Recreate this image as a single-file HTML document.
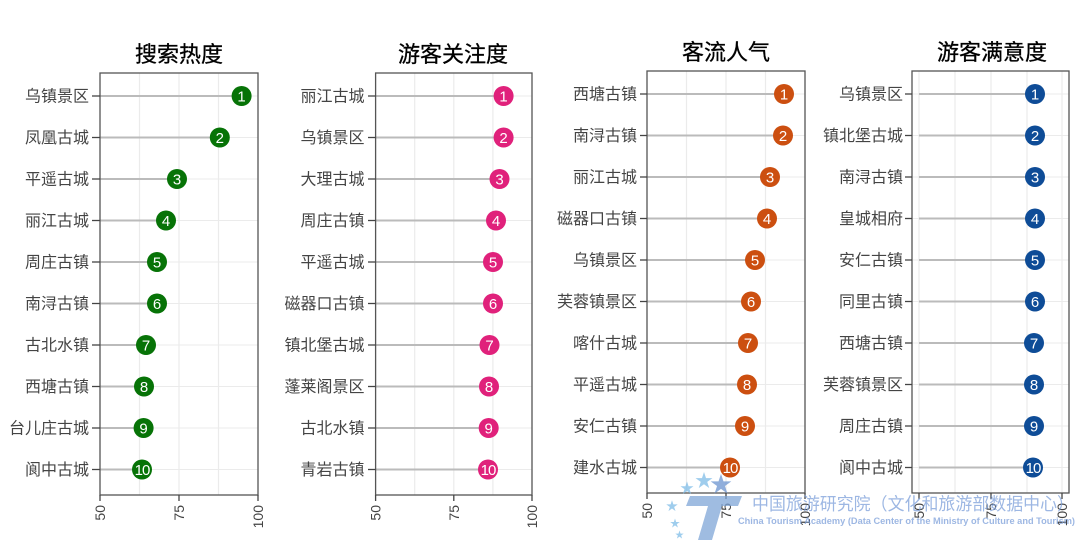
<!DOCTYPE html>
<html><head><meta charset="utf-8"><style>
html,body{margin:0;padding:0;background:#fff;}
svg{display:block;font-family:"Liberation Sans","Noto Sans CJK SC",sans-serif;}
.c text{font-size:15px;}
</style></head><body>
<svg width="1080" height="540" viewBox="0 0 1080 540" xmlns="http://www.w3.org/2000/svg">
<g id="p1">
<g stroke="#ebebeb" stroke-width="1.2"><line x1="139.5" y1="73" x2="139.5" y2="495"/><line x1="179" y1="73" x2="179" y2="495"/><line x1="218.5" y1="73" x2="218.5" y2="495"/></g>
<g stroke="#ebebeb"><line x1="100" y1="96" x2="258" y2="96"/><line x1="100" y1="137.5" x2="258" y2="137.5"/><line x1="100" y1="179" x2="258" y2="179"/><line x1="100" y1="220.5" x2="258" y2="220.5"/><line x1="100" y1="262" x2="258" y2="262"/><line x1="100" y1="303.5" x2="258" y2="303.5"/><line x1="100" y1="345" x2="258" y2="345"/><line x1="100" y1="386.5" x2="258" y2="386.5"/><line x1="100" y1="428" x2="258" y2="428"/><line x1="100" y1="469.5" x2="258" y2="469.5"/></g>
<g stroke="#bbb" stroke-width="2"><line x1="100" y1="96" x2="241.6" y2="96"/><line x1="100" y1="137.5" x2="219.8" y2="137.5"/><line x1="100" y1="179" x2="177" y2="179"/><line x1="100" y1="220.5" x2="166" y2="220.5"/><line x1="100" y1="262" x2="157" y2="262"/><line x1="100" y1="303.5" x2="157" y2="303.5"/><line x1="100" y1="345" x2="146" y2="345"/><line x1="100" y1="386.5" x2="144" y2="386.5"/><line x1="100" y1="428" x2="143.6" y2="428"/><line x1="100" y1="469.5" x2="142" y2="469.5"/></g>
<rect x="100" y="73" width="158" height="422" fill="none" stroke="#555" stroke-width="1.3"/>
<g fill="#077307"><circle cx="241.6" cy="96" r="10"/><circle cx="219.8" cy="137.5" r="10"/><circle cx="177" cy="179" r="10"/><circle cx="166" cy="220.5" r="10"/><circle cx="157" cy="262" r="10"/><circle cx="157" cy="303.5" r="10"/><circle cx="146" cy="345" r="10"/><circle cx="144" cy="386.5" r="10"/><circle cx="143.6" cy="428" r="10"/><circle cx="142" cy="469.5" r="10"/></g>
<g class="c" fill="#fff" text-anchor="middle"><text x="241.6" y="101.5">1</text><text x="219.8" y="143">2</text><text x="177" y="184.5">3</text><text x="166" y="226">4</text><text x="157" y="267.5">5</text><text x="157" y="309">6</text><text x="146" y="350.5">7</text><text x="144" y="392">8</text><text x="143.6" y="433.5">9</text><text x="142" y="475" letter-spacing="-1">10</text></g>
<g stroke="#444" stroke-width="1.3"><line x1="92" y1="96" x2="100" y2="96"/><line x1="92" y1="137.5" x2="100" y2="137.5"/><line x1="92" y1="179" x2="100" y2="179"/><line x1="92" y1="220.5" x2="100" y2="220.5"/><line x1="92" y1="262" x2="100" y2="262"/><line x1="92" y1="303.5" x2="100" y2="303.5"/><line x1="92" y1="345" x2="100" y2="345"/><line x1="92" y1="386.5" x2="100" y2="386.5"/><line x1="92" y1="428" x2="100" y2="428"/><line x1="92" y1="469.5" x2="100" y2="469.5"/><line x1="100" y1="495" x2="100" y2="501"/><line x1="179" y1="495" x2="179" y2="501"/><line x1="258" y1="495" x2="258" y2="501"/></g>
<g fill="#444" font-size="16" text-anchor="end"><text x="89" y="101.5">乌镇景区</text><text x="89" y="143">凤凰古城</text><text x="89" y="184.5">平遥古城</text><text x="89" y="226">丽江古城</text><text x="89" y="267.5">周庄古镇</text><text x="89" y="309">南浔古镇</text><text x="89" y="350.5">古北水镇</text><text x="89" y="392">西塘古镇</text><text x="89" y="433.5">台儿庄古城</text><text x="89" y="475">阆中古城</text></g>
<g fill="#444" font-size="14" text-anchor="end"><text transform="translate(105,505) rotate(-90)">50</text><text transform="translate(184,505) rotate(-90)">75</text><text transform="translate(263,505) rotate(-90)">100</text></g>
<text x="179" y="62" font-size="22" text-anchor="middle" fill="#000" stroke="#000" stroke-width="0.3">搜索热度</text>
</g>

<g id="p2">
<g stroke="#ebebeb" stroke-width="1.2"><line x1="414.7" y1="73" x2="414.7" y2="495"/><line x1="453.8" y1="73" x2="453.8" y2="495"/><line x1="492.9" y1="73" x2="492.9" y2="495"/></g>
<g stroke="#ebebeb"><line x1="375.6" y1="96" x2="532" y2="96"/><line x1="375.6" y1="137.5" x2="532" y2="137.5"/><line x1="375.6" y1="179" x2="532" y2="179"/><line x1="375.6" y1="220.5" x2="532" y2="220.5"/><line x1="375.6" y1="262" x2="532" y2="262"/><line x1="375.6" y1="303.5" x2="532" y2="303.5"/><line x1="375.6" y1="345" x2="532" y2="345"/><line x1="375.6" y1="386.5" x2="532" y2="386.5"/><line x1="375.6" y1="428" x2="532" y2="428"/><line x1="375.6" y1="469.5" x2="532" y2="469.5"/></g>
<g stroke="#bbb" stroke-width="2"><line x1="375.6" y1="96" x2="503.6" y2="96"/><line x1="375.6" y1="137.5" x2="503.6" y2="137.5"/><line x1="375.6" y1="179" x2="499.5" y2="179"/><line x1="375.6" y1="220.5" x2="496" y2="220.5"/><line x1="375.6" y1="262" x2="493" y2="262"/><line x1="375.6" y1="303.5" x2="493" y2="303.5"/><line x1="375.6" y1="345" x2="489.5" y2="345"/><line x1="375.6" y1="386.5" x2="489" y2="386.5"/><line x1="375.6" y1="428" x2="488.7" y2="428"/><line x1="375.6" y1="469.5" x2="488" y2="469.5"/></g>
<rect x="375.6" y="73" width="156.4" height="422" fill="none" stroke="#555" stroke-width="1.3"/>
<g fill="#e0217b"><circle cx="503.6" cy="96" r="10"/><circle cx="503.6" cy="137.5" r="10"/><circle cx="499.5" cy="179" r="10"/><circle cx="496" cy="220.5" r="10"/><circle cx="493" cy="262" r="10"/><circle cx="493" cy="303.5" r="10"/><circle cx="489.5" cy="345" r="10"/><circle cx="489" cy="386.5" r="10"/><circle cx="488.7" cy="428" r="10"/><circle cx="488" cy="469.5" r="10"/></g>
<g class="c" fill="#fff" text-anchor="middle"><text x="503.6" y="101.5">1</text><text x="503.6" y="143">2</text><text x="499.5" y="184.5">3</text><text x="496" y="226">4</text><text x="493" y="267.5">5</text><text x="493" y="309">6</text><text x="489.5" y="350.5">7</text><text x="489" y="392">8</text><text x="488.7" y="433.5">9</text><text x="488" y="475" letter-spacing="-1">10</text></g>
<g stroke="#444" stroke-width="1.3"><line x1="368" y1="96" x2="375.6" y2="96"/><line x1="368" y1="137.5" x2="375.6" y2="137.5"/><line x1="368" y1="179" x2="375.6" y2="179"/><line x1="368" y1="220.5" x2="375.6" y2="220.5"/><line x1="368" y1="262" x2="375.6" y2="262"/><line x1="368" y1="303.5" x2="375.6" y2="303.5"/><line x1="368" y1="345" x2="375.6" y2="345"/><line x1="368" y1="386.5" x2="375.6" y2="386.5"/><line x1="368" y1="428" x2="375.6" y2="428"/><line x1="368" y1="469.5" x2="375.6" y2="469.5"/><line x1="375.6" y1="495" x2="375.6" y2="501"/><line x1="453.8" y1="495" x2="453.8" y2="501"/><line x1="532" y1="495" x2="532" y2="501"/></g>
<g fill="#444" font-size="16" text-anchor="end"><text x="364.5" y="101.5">丽江古城</text><text x="364.5" y="143">乌镇景区</text><text x="364.5" y="184.5">大理古城</text><text x="364.5" y="226">周庄古镇</text><text x="364.5" y="267.5">平遥古城</text><text x="364.5" y="309">磁器口古镇</text><text x="364.5" y="350.5">镇北堡古城</text><text x="364.5" y="392">蓬莱阁景区</text><text x="364.5" y="433.5">古北水镇</text><text x="364.5" y="475">青岩古镇</text></g>
<g fill="#444" font-size="14" text-anchor="end"><text transform="translate(380.6,505) rotate(-90)">50</text><text transform="translate(458.8,505) rotate(-90)">75</text><text transform="translate(537,505) rotate(-90)">100</text></g>
<text x="453" y="62" font-size="22" text-anchor="middle" fill="#000" stroke="#000" stroke-width="0.3">游客关注度</text>
</g>

<g id="p3">
<g stroke="#ebebeb" stroke-width="1.2"><line x1="686.5" y1="71" x2="686.5" y2="493"/><line x1="726" y1="71" x2="726" y2="493"/><line x1="765.5" y1="71" x2="765.5" y2="493"/></g>
<g stroke="#ebebeb"><line x1="647" y1="94" x2="805" y2="94"/><line x1="647" y1="135.5" x2="805" y2="135.5"/><line x1="647" y1="177" x2="805" y2="177"/><line x1="647" y1="218.5" x2="805" y2="218.5"/><line x1="647" y1="260" x2="805" y2="260"/><line x1="647" y1="301.5" x2="805" y2="301.5"/><line x1="647" y1="343" x2="805" y2="343"/><line x1="647" y1="384.5" x2="805" y2="384.5"/><line x1="647" y1="426" x2="805" y2="426"/><line x1="647" y1="467.5" x2="805" y2="467.5"/></g>
<g stroke="#bbb" stroke-width="2"><line x1="647" y1="94" x2="784" y2="94"/><line x1="647" y1="135.5" x2="783" y2="135.5"/><line x1="647" y1="177" x2="770" y2="177"/><line x1="647" y1="218.5" x2="767" y2="218.5"/><line x1="647" y1="260" x2="755" y2="260"/><line x1="647" y1="301.5" x2="751" y2="301.5"/><line x1="647" y1="343" x2="748" y2="343"/><line x1="647" y1="384.5" x2="747" y2="384.5"/><line x1="647" y1="426" x2="745" y2="426"/><line x1="647" y1="467.5" x2="730" y2="467.5"/></g>
<rect x="647" y="71" width="158" height="422" fill="none" stroke="#555" stroke-width="1.3"/>
<g fill="#cc4f10"><circle cx="784" cy="94" r="10"/><circle cx="783" cy="135.5" r="10"/><circle cx="770" cy="177" r="10"/><circle cx="767" cy="218.5" r="10"/><circle cx="755" cy="260" r="10"/><circle cx="751" cy="301.5" r="10"/><circle cx="748" cy="343" r="10"/><circle cx="747" cy="384.5" r="10"/><circle cx="745" cy="426" r="10"/><circle cx="730" cy="467.5" r="10"/></g>
<g class="c" fill="#fff" text-anchor="middle"><text x="784" y="99.5">1</text><text x="783" y="141">2</text><text x="770" y="182.5">3</text><text x="767" y="224">4</text><text x="755" y="265.5">5</text><text x="751" y="307">6</text><text x="748" y="348.5">7</text><text x="747" y="390">8</text><text x="745" y="431.5">9</text><text x="730" y="473" letter-spacing="-1">10</text></g>
<g stroke="#444" stroke-width="1.3"><line x1="640" y1="94" x2="647" y2="94"/><line x1="640" y1="135.5" x2="647" y2="135.5"/><line x1="640" y1="177" x2="647" y2="177"/><line x1="640" y1="218.5" x2="647" y2="218.5"/><line x1="640" y1="260" x2="647" y2="260"/><line x1="640" y1="301.5" x2="647" y2="301.5"/><line x1="640" y1="343" x2="647" y2="343"/><line x1="640" y1="384.5" x2="647" y2="384.5"/><line x1="640" y1="426" x2="647" y2="426"/><line x1="640" y1="467.5" x2="647" y2="467.5"/><line x1="647" y1="493" x2="647" y2="499"/><line x1="726" y1="493" x2="726" y2="499"/><line x1="805" y1="493" x2="805" y2="499"/></g>
<g fill="#444" font-size="16" text-anchor="end"><text x="637" y="99.5">西塘古镇</text><text x="637" y="141">南浔古镇</text><text x="637" y="182.5">丽江古城</text><text x="637" y="224">磁器口古镇</text><text x="637" y="265.5">乌镇景区</text><text x="637" y="307">芙蓉镇景区</text><text x="637" y="348.5">喀什古城</text><text x="637" y="390">平遥古城</text><text x="637" y="431.5">安仁古镇</text><text x="637" y="473">建水古城</text></g>
<g fill="#444" font-size="14" text-anchor="end"><text transform="translate(652,503) rotate(-90)">50</text><text transform="translate(731,503) rotate(-90)">75</text><text transform="translate(810,503) rotate(-90)">100</text></g>
<text x="726" y="60" font-size="22" text-anchor="middle" fill="#000" stroke="#000" stroke-width="0.3">客流人气</text>
</g>

<g id="p4">
<g stroke="#ebebeb" stroke-width="1.2"><line x1="919" y1="71" x2="919" y2="493"/><line x1="955" y1="71" x2="955" y2="493"/><line x1="991" y1="71" x2="991" y2="493"/><line x1="1027" y1="71" x2="1027" y2="493"/><line x1="1062" y1="71" x2="1062" y2="493"/></g>
<g stroke="#ebebeb"><line x1="912" y1="94" x2="1069" y2="94"/><line x1="912" y1="135.5" x2="1069" y2="135.5"/><line x1="912" y1="177" x2="1069" y2="177"/><line x1="912" y1="218.5" x2="1069" y2="218.5"/><line x1="912" y1="260" x2="1069" y2="260"/><line x1="912" y1="301.5" x2="1069" y2="301.5"/><line x1="912" y1="343" x2="1069" y2="343"/><line x1="912" y1="384.5" x2="1069" y2="384.5"/><line x1="912" y1="426" x2="1069" y2="426"/><line x1="912" y1="467.5" x2="1069" y2="467.5"/></g>
<g stroke="#bbb" stroke-width="2"><line x1="919" y1="94" x2="1035" y2="94"/><line x1="919" y1="135.5" x2="1035" y2="135.5"/><line x1="919" y1="177" x2="1035" y2="177"/><line x1="919" y1="218.5" x2="1035" y2="218.5"/><line x1="919" y1="260" x2="1035" y2="260"/><line x1="919" y1="301.5" x2="1035" y2="301.5"/><line x1="919" y1="343" x2="1034" y2="343"/><line x1="919" y1="384.5" x2="1034" y2="384.5"/><line x1="919" y1="426" x2="1034" y2="426"/><line x1="919" y1="467.5" x2="1033" y2="467.5"/></g>
<rect x="912" y="71" width="157" height="422" fill="none" stroke="#555" stroke-width="1.3"/>
<g fill="#0e4c97"><circle cx="1035" cy="94" r="10"/><circle cx="1035" cy="135.5" r="10"/><circle cx="1035" cy="177" r="10"/><circle cx="1035" cy="218.5" r="10"/><circle cx="1035" cy="260" r="10"/><circle cx="1035" cy="301.5" r="10"/><circle cx="1034" cy="343" r="10"/><circle cx="1034" cy="384.5" r="10"/><circle cx="1034" cy="426" r="10"/><circle cx="1033" cy="467.5" r="10"/></g>
<g class="c" fill="#fff" text-anchor="middle"><text x="1035" y="99.5">1</text><text x="1035" y="141">2</text><text x="1035" y="182.5">3</text><text x="1035" y="224">4</text><text x="1035" y="265.5">5</text><text x="1035" y="307">6</text><text x="1034" y="348.5">7</text><text x="1034" y="390">8</text><text x="1034" y="431.5">9</text><text x="1033" y="473" letter-spacing="-1">10</text></g>
<g stroke="#444" stroke-width="1.3"><line x1="905" y1="94" x2="912" y2="94"/><line x1="905" y1="135.5" x2="912" y2="135.5"/><line x1="905" y1="177" x2="912" y2="177"/><line x1="905" y1="218.5" x2="912" y2="218.5"/><line x1="905" y1="260" x2="912" y2="260"/><line x1="905" y1="301.5" x2="912" y2="301.5"/><line x1="905" y1="343" x2="912" y2="343"/><line x1="905" y1="384.5" x2="912" y2="384.5"/><line x1="905" y1="426" x2="912" y2="426"/><line x1="905" y1="467.5" x2="912" y2="467.5"/><line x1="919" y1="493" x2="919" y2="499"/><line x1="991" y1="493" x2="991" y2="499"/><line x1="1062" y1="493" x2="1062" y2="499"/></g>
<g fill="#444" font-size="16" text-anchor="end"><text x="903" y="99.5">乌镇景区</text><text x="903" y="141">镇北堡古城</text><text x="903" y="182.5">南浔古镇</text><text x="903" y="224">皇城相府</text><text x="903" y="265.5">安仁古镇</text><text x="903" y="307">同里古镇</text><text x="903" y="348.5">西塘古镇</text><text x="903" y="390">芙蓉镇景区</text><text x="903" y="431.5">周庄古镇</text><text x="903" y="473">阆中古城</text></g>
<g fill="#444" font-size="14" text-anchor="end"><text transform="translate(924,503) rotate(-90)">50</text><text transform="translate(996,503) rotate(-90)">75</text><text transform="translate(1067,503) rotate(-90)">100</text></g>
<text x="992" y="60" font-size="22" text-anchor="middle" fill="#000" stroke="#000" stroke-width="0.3">游客满意度</text>
</g>

<g opacity="0.75">
<g fill="#7fbde8" font-size="14"><text x="680" y="493">★</text><text x="695" y="487" font-size="18">★</text><text x="710" y="492" font-size="22" fill="#6b93d0">★</text><text x="666" y="510" font-size="12">★</text><text x="670" y="527" font-size="10">★</text><text x="675" y="538" font-size="9">★</text></g>
<path d="M690 496 L742 496 L738 506 L722 506 L712 540 L698 540 L708 506 L686 506 Z" fill="#7fa6d8"/>
<text x="752" y="510" font-size="17.5" fill="#7da0da" textLength="322" lengthAdjust="spacingAndGlyphs">中国旅游研究院（文化和旅游部数据中心）</text>
<text x="738" y="524" font-size="9" font-weight="bold" fill="#7da0da" textLength="337" lengthAdjust="spacingAndGlyphs">China Tourism Academy (Data Center of the Ministry of Culture and Tourism)</text>
</g>
</svg>
</body></html>
